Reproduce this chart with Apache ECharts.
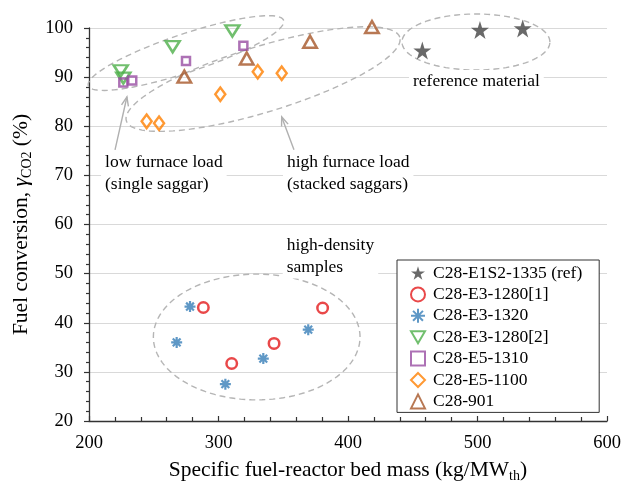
<!DOCTYPE html>
<html>
<head>
<meta charset="utf-8">
<script src="https://cdn.jsdelivr.net/npm/echarts@6/dist/echarts.min.js"></script>
<style>html,body{margin:0;padding:0;background:#fff}#c{width:625px;height:481px}</style>
</head>
<body>
<div id="c"></div>
<script>
// ---- data ----
const seriesNames = ['C28-E1S2-1335 (ref)', 'C28-E3-1280[1]', 'C28-E3-1320', 'C28-E3-1280[2]', 'C28-E5-1310', 'C28-E5-1100', 'C28-901'];
const refX = [457.4, 501.9, 534.9];
const refY = [95.4, 99.6, 99.9];
const e31280aX = [288.3, 310.2, 342.9, 380.4];
const e31280aY = [43.1, 31.7, 35.8, 43.0];
const e31320X = [267.7, 278.0, 305.3, 334.6, 369.3];
const e31320Y = [36.0, 43.3, 27.5, 32.7, 38.6];
const e31280bX = [224.5, 226.5, 264.6, 310.7];
const e31280bY = [91.3, 89.8, 96.2, 99.4];
const e51310X = [226.5, 233.4, 274.9, 319.2];
const e51310Y = [88.9, 89.3, 93.3, 96.4];
const e51100X = [244.5, 254.1, 301.4, 330.3, 348.8];
const e51100Y = [81.0, 80.6, 86.5, 91.1, 90.8];
const c28901X = [273.6, 321.8, 370.7, 418.5];
const c28901Y = [90.1, 93.8, 97.2, 100.2];
const xTicks = [200, 300, 400, 500, 600];
const yTicks = [20, 30, 40, 50, 60, 70, 80, 90, 100];

// annotation groups: centre (data), semi-axes (x units, y units), rotation deg
const ellCx = [274.9, 334.4, 498.8, 329.5];
const ellCy = [94.9, 89.6, 97.15, 37.1];
const ellA = [79.5, 110.4, 57.1, 79.8];
const ellB = [3.9, 6.7, 5.7, 12.8];
const ellRot = [18.5, 17, 0, 0];
// arrows: tail -> head (data)
const arrTailX = [220.1, 358.3];
const arrTailY = [75.2, 75.2];
const arrHeadX = [229.3, 348.8];
const arrHeadY = [86.0, 81.9];
// text notes
const noteText = ['low furnace load\n(single saggar)', 'high furnace load\n(stacked saggars)', 'reference material', 'high-density\nsamples'];
const noteX = [209.3, 349.8, 447.1, 349.6];
const noteY = [70.3, 70.3, 89.2, 53.5];

const zip = (a, b) => a.map((v, i) => [v, b[i]]);
const FONT = '"Liberation Serif", "DejaVu Serif", serif';

const starPath = 'path://M50,0 L61.2,34.5 L97.6,34.5 L68.2,55.9 L79.4,90.5 L50,69.1 L20.6,90.5 L31.8,55.9 L2.4,34.5 L38.8,34.5 Z';
const astPath = 'path://M0,-10L0,10M-10,0L10,0M-7.07,-7.07L7.07,7.07M-7.07,7.07L7.07,-7.07';
const triDown = 'path://M0,0L20,0L10,17.32Z';

function hollow(color) {
  return { color: 'rgba(255,255,255,0)', borderColor: color, borderWidth: 2.5 };
}

const chart = echarts.init(document.getElementById('c'), null, { renderer: 'canvas' });

const scatterBase = { type: 'scatter', clip: false, z: 5 };

const option = {
  animation: false,
  backgroundColor: '#fff',
  textStyle: { fontFamily: FONT },
  grid: { left: 89, right: 18, top: 28, bottom: 60, containLabel: false, outerBoundsMode: 'none' },
  xAxis: {
    type: 'value', min: xTicks[0], max: xTicks[xTicks.length - 1], interval: 100,
    name: '{n|Specific fuel-reactor bed mass (kg/MW}{s|th}{n|)}',
    nameLocation: 'middle', nameGap: 36,
    nameTextStyle: {
      rich: {
        n: { fontFamily: FONT, fontSize: 21.5, color: '#000', lineHeight: 26, verticalAlign: 'middle' },
        s: { fontFamily: FONT, fontSize: 14, color: '#000', lineHeight: 14, verticalAlign: 'bottom' }
      }
    },
    axisLine: { show: true, onZero: false, lineStyle: { color: '#333', width: 1.3 } },
    axisTick: { show: true, inside: true, length: 5, lineStyle: { color: '#333', width: 1.2 } },
    minorTick: { show: true, splitNumber: 5, length: 4, lineStyle: { color: '#333', width: 1.2 } },
    axisLabel: { fontFamily: FONT, fontSize: 18.5, color: '#000', margin: 13 },
    splitLine: { show: false }
  },
  yAxis: {
    type: 'value', min: yTicks[0], max: yTicks[yTicks.length - 1], interval: 10,
    name: '{n|Fuel conversion, }{g|γ}{s|CO2}{n| (%)}',
    nameLocation: 'middle', nameGap: 52, nameRotate: 90,
    nameTextStyle: {
      rich: {
        n: { fontFamily: FONT, fontSize: 21.5, color: '#000', lineHeight: 26, verticalAlign: 'middle' },
        g: { fontFamily: FONT, fontSize: 21.5, fontStyle: 'italic', color: '#000', lineHeight: 26, verticalAlign: 'middle' },
        s: { fontFamily: FONT, fontSize: 14, color: '#000', lineHeight: 14, verticalAlign: 'bottom' }
      }
    },
    axisLine: { show: true, onZero: false, lineStyle: { color: '#333', width: 1.3 } },
    axisTick: { show: true, inside: false, length: 5, lineStyle: { color: '#333', width: 1.2 } },
    minorTick: { show: true, splitNumber: 5, length: 3, lineStyle: { color: '#333', width: 1.2 } },
    axisLabel: { fontFamily: FONT, fontSize: 18.5, color: '#000', margin: 16 },
    splitLine: { show: true, lineStyle: { color: '#d9d9d9', width: 1 } }
  },
  legend: {
    orient: 'vertical', left: 397, top: 260,
    data: seriesNames,
    backgroundColor: '#fff', borderColor: '#333', borderWidth: 1, borderRadius: 0,
    padding: [4, 17, 2, 13],
    itemWidth: 14, itemHeight: 14, itemGap: 3.4,
    textStyle: { fontFamily: FONT, fontSize: 17.5, color: '#000', padding: [0, 0, 0, 3] },
    z: 10
  },
  series: [
    Object.assign({}, scatterBase, { name: seriesNames[0], data: zip(refX, refY), symbol: starPath, symbolSize: 18, itemStyle: { color: '#444' } }),
    Object.assign({}, scatterBase, { name: seriesNames[1], data: zip(e31280aX, e31280aY), symbol: 'circle', symbolSize: 10.5, itemStyle: hollow('#e41a1c') }),
    Object.assign({}, scatterBase, { name: seriesNames[2], data: zip(e31320X, e31320Y), symbol: astPath, symbolSize: 11, itemStyle: { color: '#377eb8', borderColor: '#377eb8', borderWidth: 2.2 } }),
    Object.assign({}, scatterBase, { name: seriesNames[3], data: zip(e31280bX, e31280bY), symbol: triDown, symbolSize: [14, 11], itemStyle: hollow('#4daf4a') }),
    Object.assign({}, scatterBase, { name: seriesNames[4], data: zip(e51310X, e51310Y), symbol: 'rect', symbolSize: 8, itemStyle: hollow('#984ea3') }),
    Object.assign({}, scatterBase, { name: seriesNames[5], data: zip(e51100X, e51100Y), symbol: 'diamond', symbolSize: [10, 13.5], itemStyle: hollow('#ff7f00') }),
    Object.assign({}, scatterBase, { name: seriesNames[6], data: zip(c28901X, c28901Y), symbol: 'triangle', symbolSize: [13.5, 12], itemStyle: hollow('#a65628') }),
    {
      type: 'custom', name: 'ellipses', silent: true, clip: false, z: 3,
      encode: { x: 0, y: 1 },
      data: ellCx.map((v, i) => [v, ellCy[i], ellA[i], ellB[i], ellRot[i]]),
      renderItem: function (params, api) {
        const c = api.coord([api.value(0), api.value(1)]);
        const a = api.size([api.value(2), 0])[0];
        const b = api.size([0, api.value(3)])[1];
        const th = api.value(4) * Math.PI / 180;
        const pts = [];
        for (let k = 0; k <= 120; k++) {
          const t = k / 120 * Math.PI * 2;
          const lx = a * Math.cos(t), ly = b * Math.sin(t);
          pts.push([c[0] + lx * Math.cos(th) - ly * Math.sin(th), c[1] - (lx * Math.sin(th) + ly * Math.cos(th))]);
        }
        return { type: 'polyline', shape: { points: pts }, style: { fill: null, stroke: '#b5b5b5', lineWidth: 1.4, lineDash: [6, 4] } };
      }
    },
    {
      type: 'custom', name: 'arrows', silent: true, clip: false, z: 3,
      encode: { x: [0, 2], y: [1, 3] },
      data: arrTailX.map((v, i) => [v, arrTailY[i], arrHeadX[i], arrHeadY[i]]),
      renderItem: function (params, api) {
        const p0 = api.coord([api.value(0), api.value(1)]);
        const p1 = api.coord([api.value(2), api.value(3)]);
        const dx = p1[0] - p0[0], dy = p1[1] - p0[1];
        const L = Math.sqrt(dx * dx + dy * dy);
        const ux = dx / L, uy = dy / L;
        const hl = 9, hw = 3.5;
        const w1 = [p1[0] - ux * hl - uy * hw, p1[1] - uy * hl + ux * hw];
        const w2 = [p1[0] - ux * hl + uy * hw, p1[1] - uy * hl - ux * hw];
        const st = { stroke: '#b0b0b0', lineWidth: 1.4, fill: null };
        return {
          type: 'group', children: [
            { type: 'line', shape: { x1: p0[0], y1: p0[1], x2: p1[0], y2: p1[1] }, style: st },
            { type: 'polyline', shape: { points: [w1, p1, w2] }, style: st }
          ]
        };
      }
    },
    {
      type: 'custom', name: 'notes', silent: true, clip: false, z: 4,
      encode: { x: 0, y: 1 },
      data: noteX.map((v, i) => [v, noteY[i], i]),
      renderItem: function (params, api) {
        const c = api.coord([api.value(0), api.value(1)]);
        return {
          type: 'text', x: c[0], y: c[1],
          style: {
            text: noteText[api.value(2)], fill: '#000', font: '17.5px ' + FONT,
            align: 'left', verticalAlign: 'middle', lineHeight: 22,
            backgroundColor: '#fff', padding: [0, 4]
          }
        };
      }
    }
  ]
};
chart.setOption(option);
</script>
</body>
</html>
